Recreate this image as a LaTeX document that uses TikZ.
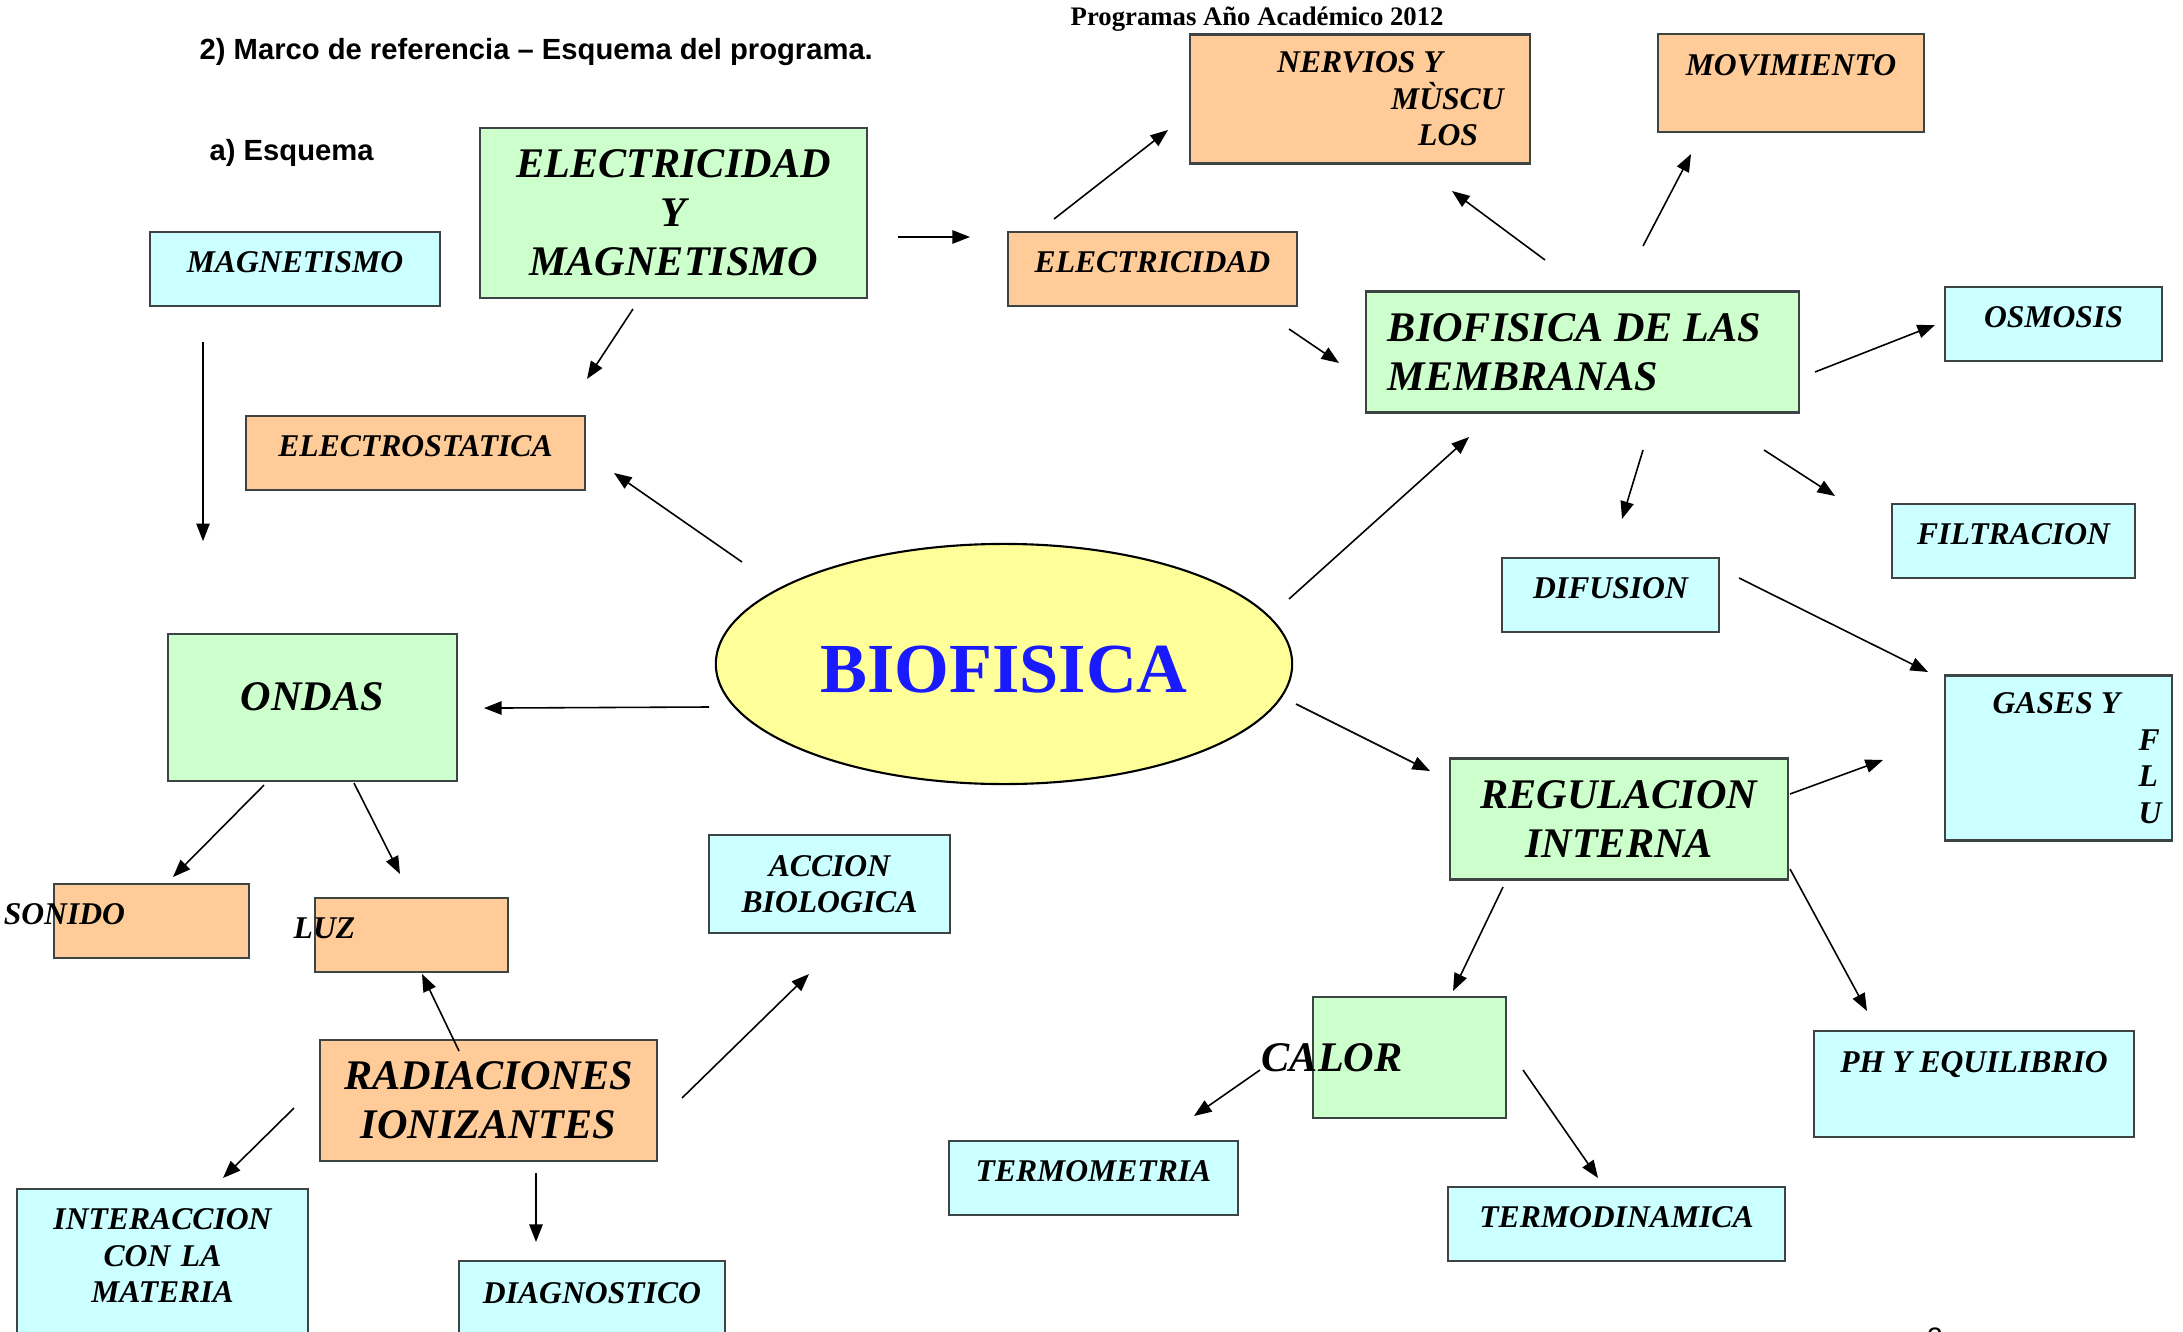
\documentclass[tikz,border=0pt]{standalone}
\usepackage{fontspec}
\setmainfont{Liberation Serif}
\setsansfont{Liberation Sans}
\usetikzlibrary{arrows.meta, shapes.geometric}
\definecolor{Verde}{HTML}{CCFFCC}
\definecolor{Celeste}{HTML}{CCFFFF}
\definecolor{Naranja}{HTML}{FFCC99}
\definecolor{Amarillo}{HTML}{FFFF99}
\definecolor{Borde}{HTML}{3C4444}
\definecolor{Azul}{HTML}{1A1AFF}

\begin{document}
\begin{tikzpicture}[x=0.01cm,y=-0.01cm,arr/.style={-{Triangle[length=5pt,width=3.8pt]}, line width=0.45pt},box/.style={draw=Borde, line width=0.6pt, inner sep=0pt, align=center},chico/.style={box, font=\fontsize{9}{10.4}\selectfont\bfseries\itshape},rotulo/.style={chico, text height=0.405cm, text depth=0.335cm},grande/.style={box, font=\fontsize{12}{14}\selectfont\bfseries\itshape},cabecera/.style={font=\sffamily\bfseries\fontsize{8.3}{10}\selectfont, anchor=west, inner sep=0pt}]
\useasboundingbox (0,0) rectangle (2183,1331);
\fill[white] (0,0) rectangle (2183,1331);
% cabecera
\node[cabecera] (titulo) at (199,52) {2) Marco de referencia – Esquema del programa.};
\node[cabecera] (subtitulo) at (209,153) {a) Esquema};
\node[font=\bfseries\fontsize{7.6}{9}\selectfont, anchor=west, inner sep=0pt] (programas) at (1070,19) {Programas Año Académico 2012};
\node[font=\sffamily\fontsize{8}{10}\selectfont] (pagina) at (1935,1338) {2};
% centro
\node[ellipse, draw=black, line width=0.6pt, fill=Amarillo, minimum width=5.76cm, minimum height=2.40cm, inner sep=0pt, text height=16.4pt, text depth=0pt, font=\fontsize{20}{24}\selectfont\bfseries, text=Azul] (bio) at (1004,664) {BIOFISICA};
% electricidad y magnetismo
\node[grande, fill=Verde, minimum width=3.87cm, minimum height=1.70cm] (elecmag) at (673.5,213) {ELECTRICIDAD\\Y\\MAGNETISMO};
\node[rotulo, fill=Celeste, minimum width=2.90cm] (mag) at (295,269) {MAGNETISMO};
\node[rotulo, fill=Naranja, minimum width=2.89cm] (elec) at (1152.5,269) {ELECTRICIDAD};
\node[rotulo, fill=Naranja, minimum width=3.39cm] (estat) at (415.5,453) {ELECTROSTATICA};
\node[chico, fill=Naranja, minimum width=3.40cm, minimum height=1.29cm, align=left] (nervios) at (1360,99) {NERVIOS Y\\\hspace*{32.4pt}\rlap{MÙSCU}\\\hspace*{40.1pt}\rlap{LOS}};
\node[chico, fill=Naranja, anchor=north, minimum width=2.66cm, text height=0.415cm, text depth=0.565cm] (movim) at (1791,33) {MOVIMIENTO};
% membranas
\node[grande, fill=Verde, text width=3.89cm, align=flush left, inner xsep=0.22cm, minimum height=1.21cm] (membr) at (1582.5,352) {BIOFISICA DE LAS\\MEMBRANAS};
\node[rotulo, fill=Celeste, minimum width=2.17cm] (osmosis) at (2053.5,324) {OSMOSIS};
\node[rotulo, fill=Celeste, minimum width=2.43cm] (filtr) at (2013.5,541) {FILTRACION};
\node[rotulo, fill=Celeste, minimum width=2.17cm] (difus) at (1610.5,595) {DIFUSION};
\node[chico, fill=Celeste, minimum width=2.27cm, minimum height=1.65cm, align=left] (gases) at (2058.5,758) {\hspace*{4pt}GASES Y\\\hspace*{45.5pt}\rlap{F}\\\hspace*{45.5pt}\rlap{L}\\\hspace*{45.5pt}\rlap{U}};
% regulacion
\node[grande, fill=Verde, minimum width=3.38cm, minimum height=1.21cm] (regul) at (1619,819) {REGULACION\\INTERNA};
\node[chico, fill=Celeste, anchor=north, minimum width=3.20cm, text height=0.415cm, text depth=0.645cm] (ph) at (1974,1030) {PH Y EQUILIBRIO};
\node[grande, fill=Verde, minimum width=1.93cm, minimum height=1.21cm] (calor) at (1409.5,1057.5) {\llap{CALOR\hspace{2pt}}};
\node[rotulo, fill=Celeste, minimum width=2.89cm] (termom) at (1093.5,1178) {TERMOMETRIA};
\node[rotulo, fill=Celeste, minimum width=3.37cm] (termod) at (1616.5,1224) {TERMODINAMICA};
% ondas y radiaciones
\node[grande, fill=Verde, anchor=north, minimum width=2.89cm, text height=0.76cm, text depth=0.71cm] (ondas) at (312.5,633) {ONDAS};
\node[rotulo, fill=Naranja, minimum width=1.95cm] (sonido) at (151.5,921) {\llap{SONIDO\hspace{7.5pt}}};
\node[rotulo, fill=Naranja, minimum width=1.93cm] (luz) at (411.5,935) {\llap{LUZ\hspace{16pt}}};
\node[chico, fill=Celeste, minimum width=2.41cm, minimum height=0.98cm] (accion) at (829.5,884) {ACCION\\BIOLOGICA};
\node[grande, fill=Naranja, minimum width=3.37cm, minimum height=1.21cm] (radiac) at (488.5,1100.5) {RADIACIONES\\IONIZANTES};
\node[chico, fill=Celeste, anchor=north, text width=2.91cm, text height=0.405cm, text depth=1.415cm] (interac) at (162.5,1188) {INTERACCION\\CON LA\\MATERIA};
\node[chico, fill=Celeste, anchor=north, minimum width=2.66cm, text height=0.425cm, text depth=0.575cm] (diagn) at (592,1260) {DIAGNOSTICO};
% flechas
\draw[arr] ([shift={(-92,73)}]mag.center) -- ([shift={(-109.5,-166.5)}]ondas.center);
\draw[arr] ([shift={(224.5,24)}]elecmag.center) -- ([shift={(-182.5,-32)}]elec.center);
\draw[arr] ([shift={(-40.5,96)}]elecmag.center) -- ([shift={(171.5,-74)}]estat.center);
\draw[arr] ([shift={(-98.5,-50)}]elec.center) -- ([shift={(-192,31)}]nervios.center);
\draw[arr] ([shift={(136.5,60)}]elec.center) -- ([shift={(-243.5,11)}]membr.center);
\draw[arr] ([shift={(-37.5,-92)}]membr.center) -- ([shift={(92,92)}]nervios.center);
\draw[arr] ([shift={(60.5,-106)}]membr.center) -- ([shift={(-100,71)}]movim.center);
\draw[arr] ([shift={(232.5,20)}]membr.center) -- ([shift={(-118.5,1)}]osmosis.center);
\draw[arr] ([shift={(181.5,98)}]membr.center) -- ([shift={(-178.5,-45)}]filtr.center);
\draw[arr] ([shift={(60.5,98)}]membr.center) -- ([shift={(11.5,-76)}]difus.center);
\draw[arr] ([shift={(285,-65)}]bio.center) -- ([shift={(-113.5,85)}]membr.center);
\draw[arr] ([shift={(128.5,-17)}]difus.center) -- ([shift={(-130.5,-86)}]gases.center);
\draw[arr] ([shift={(-262,-102)}]bio.center) -- ([shift={(198.5,20)}]estat.center);
\draw[arr] ([shift={(-295,43)}]bio.center) -- ([shift={(171.5,0.5)}]ondas.center);
\draw[arr] ([shift={(292,40)}]bio.center) -- ([shift={(-189,-48)}]regul.center);
\draw[arr] ([shift={(171,-25)}]regul.center) -- ([shift={(-175.5,2)}]gases.center);
\draw[arr] ([shift={(171,50)}]regul.center) -- ([shift={(-107,-19)}]ph.north);
\draw[arr] ([shift={(-116,68)}]regul.center) -- ([shift={(43.5,-66.5)}]calor.center);
\draw[arr] ([shift={(-149.5,12.5)}]calor.center) -- ([shift={(100.5,-62)}]termom.center);
\draw[arr] ([shift={(113.5,12.5)}]calor.center) -- ([shift={(-18.5,-46)}]termod.center);
\draw[arr] ([shift={(-48.5,77.5)}]ondas.center) -- ([shift={(21.5,-44)}]sonido.center);
\draw[arr] ([shift={(41.5,75.5)}]ondas.center) -- ([shift={(-11.5,-61)}]luz.center);
\draw[arr] ([shift={(-29.5,-49.5)}]radiac.center) -- ([shift={(10.5,39)}]luz.center);
\draw[arr] ([shift={(193.5,-2.5)}]radiac.center) -- ([shift={(-20.5,90)}]accion.center);
\draw[arr] ([shift={(-194.5,7.5)}]radiac.center) -- ([shift={(60.5,-10)}]interac.north);
\draw[arr] ([shift={(47.5,72.5)}]radiac.center) -- ([shift={(-56,-18)}]diagn.north);
\end{tikzpicture}
\end{document}
